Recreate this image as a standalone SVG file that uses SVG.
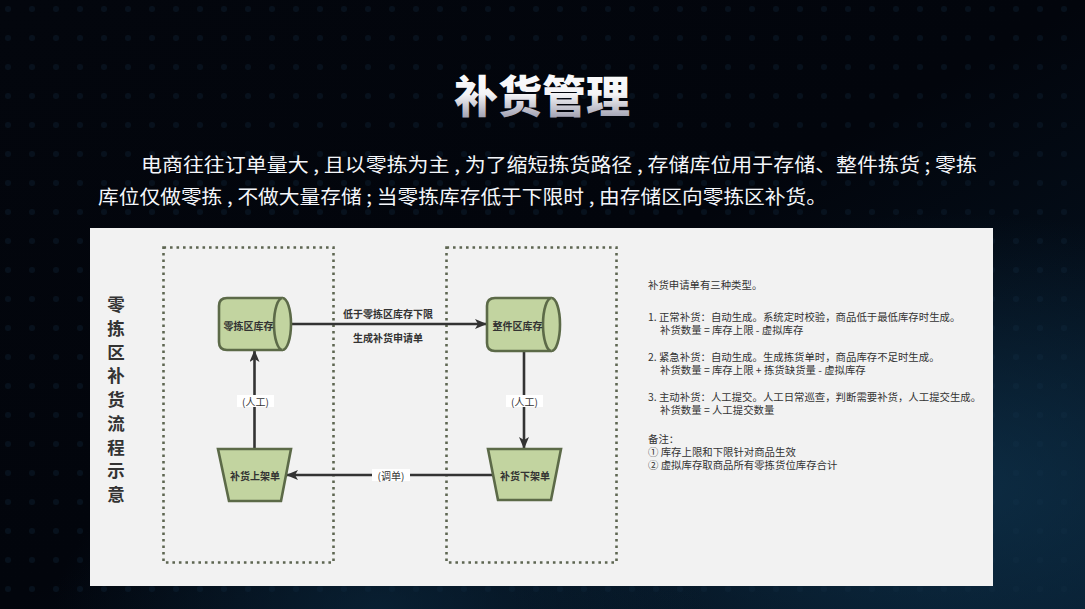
<svg xmlns="http://www.w3.org/2000/svg" width="1085" height="609" viewBox="0 0 1085 609">
<defs>
<linearGradient id="bg" x1="0" y1="0" x2="1" y2="1">
<stop offset="0" stop-color="#03060d"/>
<stop offset="0.5" stop-color="#02050c"/>
<stop offset="1" stop-color="#061829"/>
</linearGradient>
<radialGradient id="glow1" cx="0.88" cy="0.8" r="0.45">
<stop offset="0" stop-color="#123d5a" stop-opacity="0.6"/>
<stop offset="1" stop-color="#123d5a" stop-opacity="0"/>
</radialGradient>
<radialGradient id="glow2" cx="0.35" cy="1" r="0.3">
<stop offset="0" stop-color="#0c2c44" stop-opacity="0.6"/>
<stop offset="1" stop-color="#0c2c44" stop-opacity="0"/>
</radialGradient>
<linearGradient id="tg" x1="0" y1="0" x2="0" y2="1">
<stop offset="0" stop-color="#ffffff"/>
<stop offset="0.5" stop-color="#f4f4f6"/>
<stop offset="1" stop-color="#84849a"/>
</linearGradient>
<pattern id="dots" width="24" height="29" patternUnits="userSpaceOnUse">
<circle cx="8" cy="9" r="3" fill="#0d1f30" opacity="0.45"/>
</pattern>
<marker id="ah" viewBox="0 0 12 10" refX="11" refY="5" markerWidth="12" markerHeight="10" markerUnits="userSpaceOnUse" orient="auto">
<path d="M0,0 L12,5 L0,10 L3,5 Z" fill="#333"/>
</marker>
<style>
.node{fill:#c2d4a0;stroke:#5c6a48;stroke-width:2.6}
.zone{fill:none;stroke:#5e6652;stroke-width:2.6;stroke-dasharray:2.6 3.9}
.ntxt{font-family:"Noto Sans CJK SC","Noto Sans",sans-serif;font-size:10px;font-weight:bold;fill:#333;text-anchor:middle;dominant-baseline:central}
.lbl{font-family:"Noto Sans CJK SC","Noto Sans",sans-serif;font-size:10px;fill:#333;text-anchor:middle;dominant-baseline:central}
.lblb{font-family:"Noto Sans CJK SC","Noto Sans",sans-serif;font-size:10px;font-weight:bold;fill:#333;text-anchor:middle;dominant-baseline:central}
.conn{stroke:#333;stroke-width:2.6;fill:none}
.note{font-family:"Noto Sans CJK SC","Noto Sans",sans-serif;font-size:10.4px;fill:#333}
.para{font-family:"Noto Sans CJK SC","Noto Sans",sans-serif;font-size:19px;fill:#f4f6fa}
.vt{font-family:"Noto Sans CJK SC","Noto Sans",sans-serif;font-size:17.5px;font-weight:bold;fill:#333;text-anchor:middle}
</style>
</defs>
<rect width="1085" height="609" fill="url(#bg)"/>
<rect width="1085" height="609" fill="url(#dots)"/>
<rect width="1085" height="609" fill="url(#glow1)"/>
<rect width="1085" height="609" fill="url(#glow2)"/>

<text x="542" y="113" font-family="'Noto Sans CJK SC',sans-serif" font-size="44" font-weight="900" fill="url(#tg)" text-anchor="middle">补货管理</text>

<text class="para" x="141" y="172" textLength="836" lengthAdjust="spacingAndGlyphs">电商往往订单量大 , 且以零拣为主 , 为了缩短拣货路径 , 存储库位用于存储、整件拣货 ; 零拣</text>
<text class="para" x="98" y="204" textLength="729" lengthAdjust="spacingAndGlyphs">库位仅做零拣 , 不做大量存储 ; 当零拣库存低于下限时 , 由存储区向零拣区补货。</text>

<rect x="90" y="228" width="903" height="358" fill="#f2f2f2"/>

<g id="title-vertical">
<text class="vt" x="116" y="311">零</text>
<text class="vt" x="116" y="334.75">拣</text>
<text class="vt" x="116" y="358.5">区</text>
<text class="vt" x="116" y="382.25">补</text>
<text class="vt" x="116" y="406">货</text>
<text class="vt" x="116" y="429.75">流</text>
<text class="vt" x="116" y="453.5">程</text>
<text class="vt" x="116" y="477.25">示</text>
<text class="vt" x="116" y="501">意</text>
</g>

<g id="zone-left"><rect class="zone" x="163.5" y="247.5" width="170" height="315"/></g>
<g id="zone-right"><rect class="zone" x="446.5" y="247.5" width="170" height="315"/></g>

<g id="connectors">
<line class="conn" x1="292" y1="324" x2="486" y2="324" marker-end="url(#ah)"/>
<text class="lblb" x="388" y="313">低于零拣区库存下限</text>
<text class="lblb" x="388" y="337">生成补货申请单</text>
<line class="conn" x1="524" y1="351" x2="524" y2="448" marker-end="url(#ah)"/>
<rect x="506" y="395" width="37" height="12" fill="#ffffff"/>
<text class="lbl" x="524.5" y="401">(人工)</text>
<line class="conn" x1="254.5" y1="449" x2="254.5" y2="351" marker-end="url(#ah)"/>
<rect x="237" y="395" width="37" height="12" fill="#ffffff"/>
<text class="lbl" x="255.5" y="401">(人工)</text>
<line class="conn" x1="493" y1="475" x2="287" y2="475" marker-end="url(#ah)"/>
<rect x="372" y="469" width="38" height="12" fill="#ffffff"/>
<text class="lbl" x="391" y="475">(调单)</text>
</g>

<g id="node-zero-stock">
<path class="node" d="M227,298 H282.5 A8.5,26 0 0 1 282.5,350 H227 Q219,350 219,342 V306 Q219,298 227,298 Z"/>
<path class="node" d="M282.5,298 A8.5,26 0 0 0 282.5,350" fill="none"/>
<text class="ntxt" x="248.5" y="325">零拣区库存</text>
</g>

<g id="node-whole-stock">
<path class="node" d="M495,298 H551.5 A8.5,26.5 0 0 1 551.5,351 H495 Q487,351 487,343 V306 Q487,298 495,298 Z"/>
<path class="node" d="M551.5,298 A8.5,26.5 0 0 0 551.5,351" fill="none"/>
<text class="ntxt" x="517.5" y="325">整件区库存</text>
</g>

<g id="node-putaway">
<path class="node" d="M218,449 H291 L281,501 H229 Z"/>
<text class="ntxt" x="255" y="475.5">补货上架单</text>
</g>

<g id="node-pickdown">
<path class="node" d="M488,449 H561 L551,500 H498 Z"/>
<text class="ntxt" x="525" y="475.5">补货下架单</text>
</g>

<g id="notes">
<text class="note" x="648" y="289">补货申请单有三种类型。</text>
<text class="note" x="648" y="321">1. 正常补货：自动生成。系统定时校验，商品低于最低库存时生成。</text>
<text class="note" x="660" y="334">补货数量 = 库存上限 - 虚拟库存</text>
<text class="note" x="648" y="361">2. 紧急补货：自动生成。生成拣货单时，商品库存不足时生成。</text>
<text class="note" x="660" y="374">补货数量 = 库存上限 + 拣货缺货量 - 虚拟库存</text>
<text class="note" x="648" y="401">3. 主动补货：人工提交。人工日常巡查，判断需要补货，人工提交生成。</text>
<text class="note" x="660" y="414">补货数量 = 人工提交数量</text>
<text class="note" x="648" y="443">备注：</text>
<text class="note" x="648" y="456">① 库存上限和下限针对商品生效</text>
<text class="note" x="648" y="469">② 虚拟库存取商品所有零拣货位库存合计</text>
</g>
</svg>
